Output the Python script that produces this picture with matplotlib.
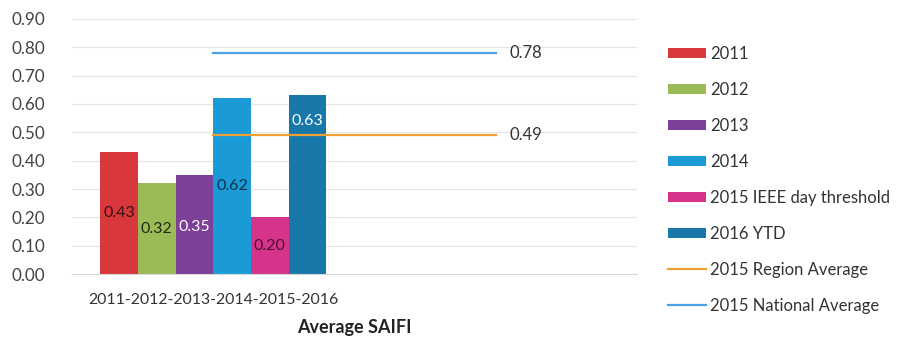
import matplotlib.pyplot as plt
from matplotlib.patches import Patch
from matplotlib.lines import Line2D

plt.rcParams["font.family"] = ["Lato", "DejaVu Sans"]

# SAIFI by year
series_names = ["2011", "2012", "2013", "2014", "2015 IEEE day threshold", "2016 YTD"]
saifi = [0.43, 0.32, 0.35, 0.62, 0.20, 0.63]
bar_colors = ["#d8373b", "#9bbb59", "#7d3f98", "#1a9bd7", "#d6338a", "#1878a9"]
label_colors = ["#3a1010", "#1e2a10", "white", "#10324a", "#4a1030", "white"]
label_heights = [0.215, 0.16, 0.165, 0.31, 0.10, 0.54]

categories = ["2011-2012-2013-2014-2015-2016", ""]

# reference averages
avg_names = ["2015 Region Average", "2015 National Average"]
avg_values = [0.49, 0.78]
avg_colors = ["#eea236", "#4c9fe2"]

fig = plt.figure(figsize=(9.09, 3.39), dpi=100)
ax = fig.add_axes([0.0792, 0.1917, 0.6216, 0.7523])

n = len(saifi)
width = 0.8 / n
for i, (v, c) in enumerate(zip(saifi, bar_colors)):
    x = -0.4 + width * (i + 0.5)
    ax.bar(x, v, width=width, color=c, zorder=2)
    ax.text(x, label_heights[i], f"{v:.2f}", ha="center", va="center",
            fontsize=11.5, color=label_colors[i], zorder=3)

for v, c in zip(avg_values, avg_colors):
    ax.plot([0, 1], [v, v], color=c, lw=1.6, zorder=3)
    ax.text(1.05, v, f"{v:.2f}", ha="left", va="center", fontsize=12, color="#333333")

ax.set_xlim(-0.5, 1.5)
ax.set_ylim(0, 0.9)
ax.set_yticks([i / 10 for i in range(10)])
ax.set_yticklabels([f"{i / 10:.2f}" for i in range(10)], fontsize=12.3, color="#444444")
ax.set_xticks([0, 1])
ax.set_xticklabels(categories, fontsize=11.4, color="#333333")
ax.tick_params(axis="y", length=0, pad=19)
ax.tick_params(axis="x", length=0, pad=14)
ax.set_xlabel("Average SAIFI", fontsize=13, fontweight="bold", color="#222222", labelpad=8)

ax.grid(axis="y", color="#e4e4e4", lw=0.8, zorder=0)
for s in ["top", "right", "left"]:
    ax.spines[s].set_visible(False)
ax.spines["bottom"].set_color("#d8d8d8")

handles = [Patch(facecolor=c, label=n_) for c, n_ in zip(bar_colors, series_names)]
handles += [Line2D([], [], color=c, lw=1.6, label=n_) for c, n_ in zip(avg_colors, avg_names)]
fig.legend(handles=handles, loc="upper left", bbox_to_anchor=(0.718, 0.91),
           frameon=False, fontsize=12, handlelength=2.3, handleheight=0.55,
           handletextpad=0.25, labelspacing=1.2, labelcolor="#333333")

fig.savefig("out.png", dpi=100)
